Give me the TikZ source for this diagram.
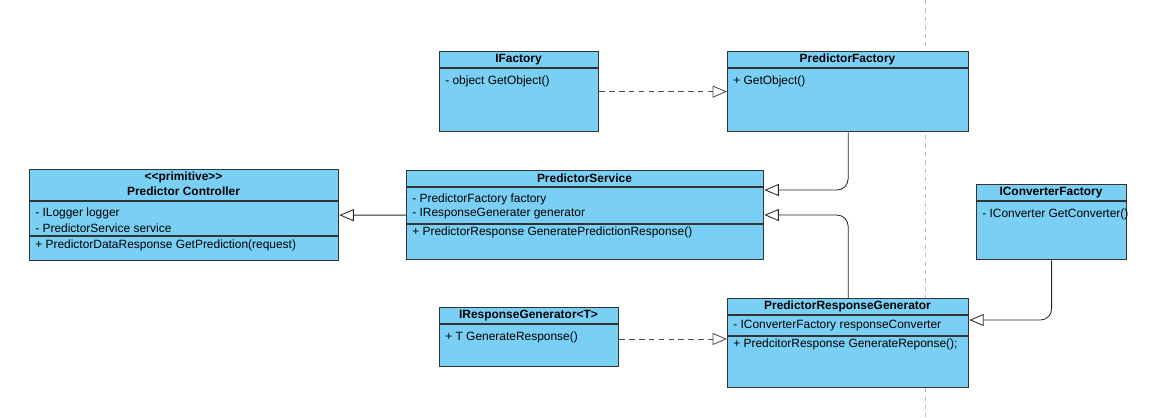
\documentclass[tikz,border=0pt]{standalone}
\usepackage{fontspec}
\setmainfont{Liberation Sans}
\usepackage{xcolor}
\usepackage{tikz}
\usetikzlibrary{arrows.meta,positioning,calc}

\definecolor{clsfill}{RGB}{122,207,245}
\definecolor{clsline}{RGB}{51,51,51}

\tikzset{
  cls/.style={draw=clsline,fill=clsfill,rectangle,anchor=north west,inner sep=0pt,line width=0.9pt},
  head/.style={font=\fontsize{8.5}{10}\selectfont\bfseries,anchor=center,inner sep=0pt},
  member/.style={font=\fontsize{8.5}{10}\selectfont,anchor=west,inner sep=0pt},
  divider/.style={draw=clsline,line width=0.9pt},
  gen/.style={draw=black!85,line width=0.6pt,-{Triangle[open,length=0.36cm,width=0.3cm]}},
  impl/.style={gen,dashed,dash pattern=on 4pt off 3pt,draw=black!70}
}

\begin{document}
\begin{tikzpicture}[x=0.025cm,y=-0.025cm]
\useasboundingbox (0,0) rectangle (1152,417);
\draw[gray!50,dash pattern=on 3pt off 3pt] (925,0) -- (925,417);

% classes
\node[cls,minimum width=3.975cm,minimum height=2cm] (ifac) at (439,51) {};
\node[cls,minimum width=6.025cm,minimum height=2cm] (pfac) at (727,51) {};
\node[cls,minimum width=7.725cm,minimum height=2.275cm] (ctrl) at (29,169) {};
\node[cls,minimum width=8.925cm,minimum height=2.225cm] (svc) at (406,170) {};
\node[cls,minimum width=3.75cm,minimum height=1.875cm] (icf) at (976,184) {};
\node[cls,minimum width=4.475cm,minimum height=1.475cm] (irg) at (439,307) {};
\node[cls,minimum width=6.025cm,minimum height=2.225cm] (prg) at (727,298) {};

% compartments
\draw[divider] (439,68) -- (598,68);
\draw[divider] (727,68) -- (968,68);
\draw[divider] (29,201) -- (338,201);
\draw[divider] (29,236) -- (338,236);
\draw[divider] (406,187) -- (763,187);
\draw[divider] (406,224) -- (763,224);
\draw[divider] (976,201) -- (1126,201);
\draw[divider] (439,324) -- (618,324);
\draw[divider] (727,315) -- (968,315);
\draw[divider] (727,336) -- (968,336);

% texts
\node[head] (ifacname) at (518.5,59.5) {IFactory};
\node[member] (ifacop) at (445,81) {- object GetObject()};

\node[head] (pfacname) at (847.5,59.5) {PredictorFactory};
\node[member] (pfacop) at (733,81) {+ GetObject()};

\node[head] (ctrlstereo) at (183.5,177.5) {<{}<primitive>{}>};
\node[head] (ctrlname) at (183.5,191) {Predictor Controller};
\node[member] (ctrlatt1) at (35,213) {- ILogger logger};
\node[member] (ctrlatt2) at (35,228.5) {- PredictorService service};
\node[member] (ctrlop) at (35,245.5) {+ PredictorDataResponse GetPrediction(request)};

\node[head] (svcname) at (584.5,178) {PredictorService};
\node[member] (svcatt1) at (412,199) {- PredictorFactory factory};
\node[member] (svcatt2) at (412,214) {- IResponseGenerater generator};
\node[member] (svcop) at (412,232) {+ PredictorResponse GeneratePredictionResponse()};

\node[head] (icfname) at (1051,192.5) {IConverterFactory};
\node[member] (icfop) at (982,214) {- IConverter GetConverter()};

\node[head] (irgname) at (528.5,315.5) {IResponseGenerator<T>};
\node[member] (irgop) at (445,337) {+ T GenerateResponse()};

\node[head] (prgname) at (847.5,306) {PredictorResponseGenerator};
\node[member] (prgatt) at (733,326) {- IConverterFactory responseConverter};
\node[member] (prgop) at (733,344.5) {+ PredcitorResponse GenerateReponse();};

% relations
\draw[impl] (ifac.east) -- (pfac.west);
\draw[impl] (irg.east |- 0,339) -- (prg.west |- 0,339);
\draw[gen] (svc.west) -- (ctrl.east);
\draw[gen,rounded corners=8] (pfac.south) |- ([yshift=-0.5cm]svc.north east);
\draw[gen,rounded corners=8] (prg.north) |- ([yshift=-1.125cm]svc.north east);
\draw[gen,rounded corners=8] (icf.south) |- ([yshift=-0.55cm]prg.north east);
\end{tikzpicture}
\end{document}
